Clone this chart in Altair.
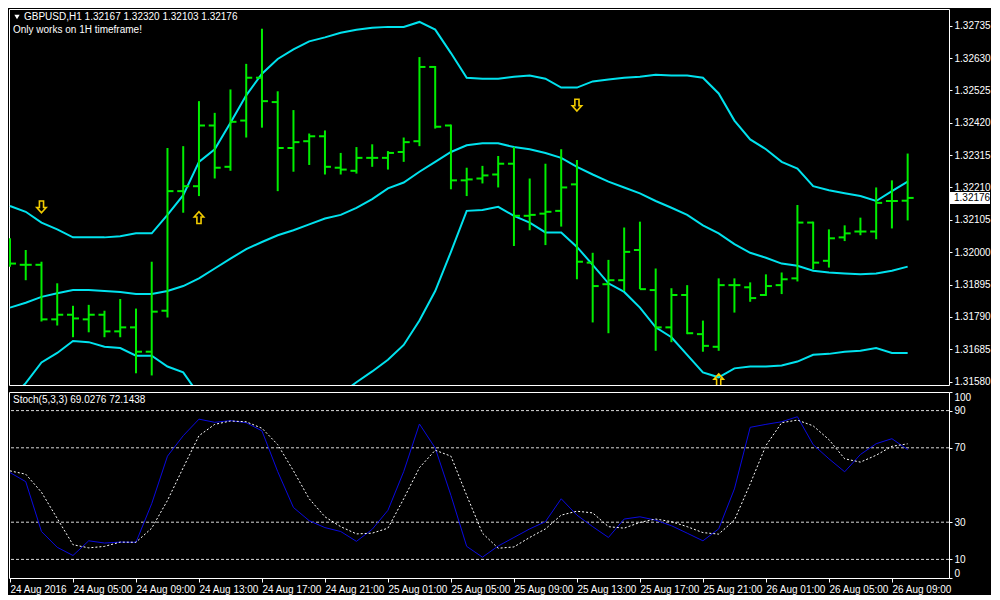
import altair as alt
import pandas as pd

# ---------------- data ----------------
symbol = "GBPUSD,H1"
note_text = "Only works on 1H timeframe!"

opens = [1.32001, 1.31959, 1.31959, 1.31782, 1.31797, 1.31782, 1.31797, 1.31743, 1.31756, 1.31677,
         1.31810, 1.32198, 1.32214, 1.32411, 1.32277, 1.32427, 1.32566, 1.32487, 1.32338, 1.32360,
         1.32376, 1.32274, 1.32264, 1.32306, 1.32306, 1.32325, 1.32360, 1.32601, 1.32411, 1.32233,
         1.32239, 1.32252, 1.32287, 1.32118, 1.32125, 1.32134, 1.32220, 1.31966, 1.31896, 1.31909,
         1.32007, 1.31877, 1.31756, 1.31861, 1.31734, 1.31693, 1.31893, 1.31886, 1.31861, 1.31893,
         1.31915, 1.32096, 1.31972, 1.32048, 1.32067, 1.32067, 1.32166, 1.32167]
highs = [1.32045, 1.32007, 1.31969, 1.31899, 1.31826, 1.31829, 1.31810, 1.31848, 1.31817, 1.31969,
         1.32338, 1.32344, 1.32490, 1.32452, 1.32528, 1.32611, 1.32725, 1.32522, 1.32461, 1.32385,
         1.32395, 1.32322, 1.32341, 1.32350, 1.32328, 1.32372, 1.32633, 1.32604, 1.32414, 1.32274,
         1.32280, 1.32312, 1.32341, 1.32239, 1.32287, 1.32334, 1.32299, 1.31998, 1.31975, 1.32080,
         1.32099, 1.31947, 1.31883, 1.31893, 1.31778, 1.31915, 1.31915, 1.31902, 1.31928, 1.31934,
         1.32153, 1.32099, 1.32074, 1.32087, 1.32112, 1.32210, 1.32233, 1.32320]
lows = [1.31953, 1.31909, 1.31775, 1.31762, 1.31724, 1.31740, 1.31724, 1.31724, 1.31607, 1.31600,
        1.31788, 1.32128, 1.32182, 1.32239, 1.32264, 1.32372, 1.32404, 1.32198, 1.32261, 1.32283,
        1.32252, 1.32252, 1.32255, 1.32277, 1.32268, 1.32293, 1.32344, 1.32401, 1.32204, 1.32182,
        1.32223, 1.32210, 1.32020, 1.32071, 1.32023, 1.32083, 1.31912, 1.31772, 1.31737, 1.31874,
        1.31880, 1.31680, 1.31708, 1.31734, 1.31677, 1.31680, 1.31804, 1.31839, 1.31858, 1.31864,
        1.31905, 1.31944, 1.31950, 1.32036, 1.32055, 1.32042, 1.32077, 1.32103]
closes = [1.31963, 1.31959, 1.31782, 1.31797, 1.31785, 1.31797, 1.31743, 1.31756, 1.31677, 1.31807,
          1.32198, 1.32214, 1.32411, 1.32274, 1.32423, 1.32566, 1.32490, 1.32338, 1.32357, 1.32376,
          1.32277, 1.32268, 1.32306, 1.32306, 1.32322, 1.32357, 1.32601, 1.32407, 1.32233, 1.32236,
          1.32249, 1.32287, 1.32118, 1.32121, 1.32131, 1.32210, 1.31969, 1.31890, 1.31909, 1.32001,
          1.31880, 1.31756, 1.31861, 1.31737, 1.31696, 1.31893, 1.31893, 1.31851, 1.31890, 1.31912,
          1.32096, 1.31966, 1.32045, 1.32061, 1.32067, 1.32160, 1.32166, 1.32176]

band_upper = [1.32150, 1.32131, 1.32096, 1.32074, 1.32048, 1.32048, 1.32048, 1.32052, 1.32061, 1.32061,
              1.32121, 1.32185, 1.32293, 1.32334, 1.32420, 1.32509, 1.32579, 1.32627, 1.32658, 1.32684,
              1.32697, 1.32712, 1.32722, 1.32728, 1.32731, 1.32731, 1.32747, 1.32722, 1.32646, 1.32566,
              1.32563, 1.32563, 1.32569, 1.32573, 1.32563, 1.32534, 1.32534, 1.32554, 1.32560, 1.32566,
              1.32569, 1.32576, 1.32573, 1.32573, 1.32566, 1.32515, 1.32427, 1.32366, 1.32334, 1.32293,
              1.32271, 1.32214, 1.32201, 1.32191, 1.32182, 1.32166, 1.32198, 1.32229]
band_middle = [1.31820, 1.31836, 1.31855, 1.31867, 1.31877, 1.31877, 1.31874, 1.31871, 1.31864, 1.31864,
               1.31874, 1.31890, 1.31915, 1.31947, 1.31979, 1.32010, 1.32033, 1.32055, 1.32071, 1.32090,
               1.32109, 1.32121, 1.32144, 1.32172, 1.32207, 1.32226, 1.32261, 1.32293, 1.32325, 1.32347,
               1.32353, 1.32353, 1.32341, 1.32334, 1.32322, 1.32306, 1.32277, 1.32252, 1.32229, 1.32210,
               1.32191, 1.32166, 1.32144, 1.32121, 1.32087, 1.32061, 1.32026, 1.31998, 1.31982, 1.31963,
               1.31956, 1.31940, 1.31934, 1.31931, 1.31928, 1.31931, 1.31940, 1.31953]
band_lower = [1.31524, 1.31575, 1.31642, 1.31673, 1.31712, 1.31708, 1.31693, 1.31689, 1.31664, 1.31664,
              1.31629, 1.31610, 1.31537, 1.31524, 1.31492, 1.31461, 1.31461, 1.31477, 1.31486, 1.31499,
              1.31518, 1.31540, 1.31578, 1.31613, 1.31651, 1.31699, 1.31778, 1.31874, 1.32001, 1.32134,
              1.32137, 1.32147, 1.32118, 1.32096, 1.32064, 1.32064, 1.32017, 1.31959, 1.31899, 1.31871,
              1.31820, 1.31756, 1.31724, 1.31667, 1.31610, 1.31594, 1.31623, 1.31629, 1.31629, 1.31632,
              1.31645, 1.31667, 1.31670, 1.31677, 1.31680, 1.31689, 1.31673, 1.31673]

stoch_k = [56.7, 51.8, 25.0, 16.5, 12.1, 20.0, 18.8, 19.3, 19.2, 40.0,
           65.5, 76.5, 85.4, 83.7, 84.6, 83.5, 79.1, 57.2, 37.9, 30.8,
           27.1, 25.0, 19.7, 26.2, 36.4, 57.2, 82.8, 69.9, 44.4, 17.0,
           11.2, 17.2, 21.8, 26.4, 30.3, 42.6, 33.8, 27.6, 21.8, 31.7,
           32.9, 31.1, 28.1, 24.1, 20.0, 26.4, 47.9, 81.0, 82.6, 84.0,
           86.7, 71.7, 64.1, 57.1, 66.4, 72.2, 74.9, 69.0276]
stoch_d = [57.6, 55.8, 46.1, 32.0, 17.9, 16.2, 17.0, 19.3, 19.2, 26.8,
           41.7, 59.3, 76.5, 82.6, 84.4, 84.0, 80.5, 71.7, 57.6, 42.6,
           32.9, 27.6, 23.7, 24.1, 26.8, 42.6, 59.3, 68.7, 65.5, 44.4,
           24.1, 16.0, 16.7, 21.8, 26.4, 33.8, 35.9, 35.0, 27.6, 26.8,
           29.9, 31.7, 30.3, 27.6, 24.4, 23.6, 31.1, 50.6, 71.2, 83.5,
           84.9, 81.8, 74.4, 64.1, 62.3, 66.0, 70.8, 72.1438]
stoch_levels = [10, 30, 70, 90]
stoch_ticks = [0, 10, 30, 70, 90, 100]

price_ticks = [1.31580, 1.31685, 1.31790, 1.31895, 1.32000, 1.32105,
               1.32210, 1.32315, 1.32420, 1.32525, 1.32630, 1.32735]
price_domain = [1.31569, 1.32789]

time_label_bars = [0, 4, 8, 12, 16, 20, 24, 28, 32, 36, 40, 44, 48, 52, 56]
time_labels = ["24 Aug 2016", "24 Aug 05:00", "24 Aug 09:00", "24 Aug 13:00", "24 Aug 17:00",
               "24 Aug 21:00", "25 Aug 01:00", "25 Aug 05:00", "25 Aug 09:00", "25 Aug 13:00",
               "25 Aug 17:00", "25 Aug 21:00", "26 Aug 01:00", "26 Aug 05:00", "26 Aug 09:00"]

arrow_bars = [2, 12, 36, 45]
arrow_prices = [1.32147, 1.32112, 1.32477, 1.31586]
arrow_kinds = ["sell", "buy", "sell", "strong buy"]

# ---------------- tables ----------------
n = len(closes)
bars = pd.DataFrame({"i": list(range(n)), "o": opens, "h": highs, "l": lows, "c": closes})
bands = pd.DataFrame({"i": list(range(n)), "upper": band_upper, "middle": band_middle, "lower": band_lower})
stoch = pd.DataFrame({"i": list(range(n)), "k": stoch_k, "d": stoch_d})
levels = pd.DataFrame({"v": stoch_levels})
arrows = pd.DataFrame({"i": arrow_bars, "p": arrow_prices, "kind": arrow_kinds})
last = pd.DataFrame({"p": [closes[-1]]})

W = 940
H1 = 376
H2 = 186
FONT = "Liberation Sans"
GREEN = "#00EE00"
CYAN = "#00E2EE"
ARROW = "#F2CC00"

xscale = alt.Scale(domain=[-0.0625, 59.625], nice=False, zero=False)
pscale = alt.Scale(domain=price_domain, nice=False, zero=False)
sscale = alt.Scale(domain=[0, 100], nice=False, zero=False)

X = alt.X("i:Q", scale=xscale, axis=None)
price_axis = alt.Axis(orient="right", values=price_ticks, format=".5f", title=None,
                      tickSize=3, labelPadding=2, domain=False, grid=False, labelOverlap=False)


def PY(field):
    return alt.Y(field, scale=pscale, axis=price_axis)


band_layer = alt.Chart(bands).transform_fold(
    ["upper", "middle", "lower"], as_=["band", "val"]
).mark_line(color=CYAN, strokeWidth=2, clip=True).encode(
    x=X, y=PY("val:Q"), detail="band:N"
)

hl_layer = alt.Chart(bars).mark_rule(color=GREEN, strokeWidth=2, clip=True).encode(
    x=X, y=PY("h:Q"), y2="l:Q"
)
open_layer = alt.Chart(bars).mark_rule(color=GREEN, strokeWidth=2, xOffset=-6, x2Offset=0, clip=True).encode(
    x=X, x2="i:Q", y=PY("o:Q")
)
close_layer = alt.Chart(bars).mark_rule(color=GREEN, strokeWidth=2, xOffset=0, x2Offset=6, clip=True).encode(
    x=X, x2="i:Q", y=PY("c:Q")
)

up_path = "M0,-1L0.8,-0.1L0.35,-0.1L0.35,1L-0.35,1L-0.35,-0.1L-0.8,-0.1Z"
down_path = "M0,1L0.8,0.1L0.35,0.1L0.35,-1L-0.35,-1L-0.35,0.1L-0.8,0.1Z"
arrow_layer = alt.Chart(arrows).mark_point(filled=False, strokeWidth=1.6, clip=True, opacity=1).encode(
    x=X, y=PY("p:Q"),
    shape=alt.Shape("kind:N", scale=alt.Scale(domain=["sell", "buy", "strong buy"],
                                              range=[down_path, up_path, up_path]), legend=None),
    size=alt.Size("kind:N", scale=alt.Scale(domain=["sell", "buy", "strong buy"],
                                            range=[140, 140, 380]), legend=None),
    color=alt.value(ARROW),
)

header = pd.DataFrame({"t": [f"{symbol}  {opens[-1]:.5f} {highs[-1]:.5f} {lows[-1]:.5f} {closes[-1]:.5f}"]})
note = pd.DataFrame({"t": [note_text]})
tri_layer = alt.Chart(header).mark_point(shape="triangle-down", filled=True, color="#FFFFFF", size=28, opacity=1).encode(
    x=alt.value(8), y=alt.value(8))
header_layer = alt.Chart(header).mark_text(align="left", baseline="middle", color="#FFFFFF",
                                           font=FONT, fontSize=10).encode(
    x=alt.value(15), y=alt.value(8), text="t:N")
note_layer = alt.Chart(note).mark_text(align="left", baseline="middle", color="#FFFFFF",
                                       font=FONT, fontSize=10).encode(
    x=alt.value(4), y=alt.value(21), text="t:N")

last_box = alt.Chart(last).mark_rect(color="#FFFFFF", yOffset=-6, y2Offset=6, clip=False).encode(
    x=alt.value(W + 1), x2=alt.value(W + 41), y=PY("p:Q"), y2="p:Q")
last_text = alt.Chart(last).mark_text(align="left", baseline="middle", color="#000000",
                                      font=FONT, fontSize=10, clip=False).encode(
    x=alt.value(W + 5), y=PY("p:Q"), text=alt.Text("p:Q", format=".5f"))

price_chart = alt.layer(
    band_layer, hl_layer, open_layer, close_layer, arrow_layer,
    tri_layer, header_layer, note_layer, last_box, last_text
).properties(width=W, height=H1)

# ---------------- stochastic panel ----------------
label_expr = "[" + ",".join("'" + s + "'" for s in time_labels) + "][round(datum.value/4)]"
x_axis = alt.Axis(values=time_label_bars, labelExpr=label_expr, labelAlign="left", labelBaseline="top",
                  labelPadding=2, tickSize=4, domain=False, grid=False, title=None, labelOverlap=False)
XS = alt.X("i:Q", scale=xscale, axis=x_axis)
stoch_axis = alt.Axis(orient="right", values=stoch_ticks, title=None, tickSize=3, labelPadding=2,
                      domain=False, grid=False, labelFlush=True, labelOverlap=False)


def SY(field):
    return alt.Y(field, scale=sscale, axis=stoch_axis)


level_layer = alt.Chart(levels).mark_rule(color="#D8D8D8", strokeWidth=1, strokeDash=[3, 2]).encode(
    y=SY("v:Q")
)
k_layer = alt.Chart(stoch).mark_line(color="#0A0AE0", strokeWidth=1, clip=True).encode(
    x=XS, y=SY("k:Q")
)
d_layer = alt.Chart(stoch).mark_line(color="#FFFFFF", strokeWidth=1, strokeDash=[2, 2], clip=True).encode(
    x=XS, y=SY("d:Q")
)
stoch_title = pd.DataFrame({"t": [f"Stoch(5,3,3) {stoch_k[-1]:.4f} {stoch_d[-1]:.4f}"]})
stoch_text = alt.Chart(stoch_title).mark_text(align="left", baseline="middle", color="#FFFFFF",
                                              font=FONT, fontSize=10).encode(
    x=alt.value(4), y=alt.value(8), text="t:N")

stoch_chart = alt.layer(level_layer, k_layer, d_layer, stoch_text).properties(width=W, height=H2)

chart = alt.vconcat(price_chart, stoch_chart, spacing=3).properties(
    padding=0, background="#000000"
).configure_view(
    stroke="#FFFFFF", strokeWidth=1, fill="#000000"
).configure_axis(
    labelColor="#FFFFFF", tickColor="#FFFFFF", labelFont=FONT, labelFontSize=10, labelOverlap=False
)

chart.save("out.html", embed_options={"renderer": "svg", "actions": False})
